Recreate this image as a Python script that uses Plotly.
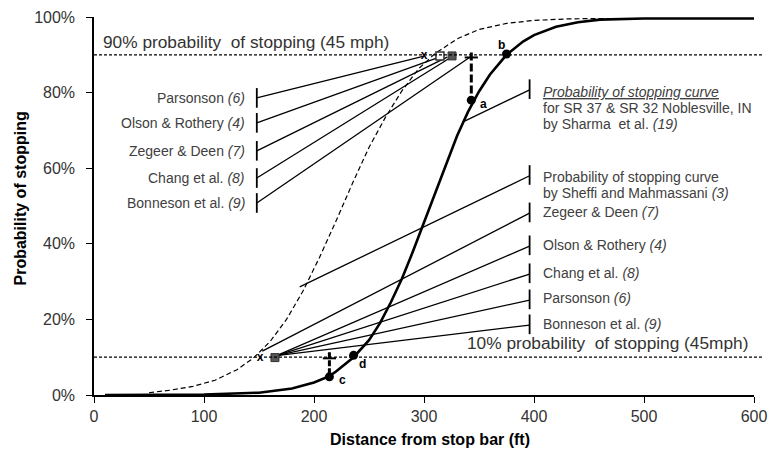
import plotly.graph_objects as go

# ---------------- data ----------------
# Sharma et al. probability of stopping curve (solid)
sharma_x = [10, 50, 100, 150, 180, 200, 214, 220, 236, 250, 260, 270, 280, 290, 300, 310, 320,
            330, 340, 345, 350, 360, 375, 390, 400, 420, 440, 460, 500, 550, 600]
sharma_y = [0.0, 0.05, 0.15, 0.6, 1.7, 3.3, 5.0, 6.2, 10.0, 14.5, 19.0, 24.6, 30.8, 38.0, 45.7, 53.6, 61.3,
            68.5, 74.9, 77.7, 80.3, 84.8, 90.0, 93.5, 95.2, 97.4, 98.6, 99.3, 99.6, 99.6, 99.6]

# Sheffi and Mahmassani curve (dashed)
sheffi_x = [50, 70, 90, 110, 130, 145, 160, 175, 190, 205, 220, 235, 250, 265, 280, 295, 310,
            330, 350, 375, 400, 430, 460, 500, 600]
sheffi_y = [0.6, 1.3, 2.3, 3.9, 6.7, 9.8, 14.1, 20.0, 27.5, 36.4, 46.0, 56.0, 65.5, 73.5, 80.5, 86.3, 90.3,
            94.2, 96.7, 98.3, 99.1, 99.5, 99.6, 99.6, 99.6]

# reference probability levels
level_90 = 90
level_10 = 10

# labelled points a, b, c, d
pt_names = ["a", "b", "c", "d"]
pt_x = [343, 375, 214, 236]
pt_y = [78.0, 90.2, 4.8, 10.5]

# left group of studies (90 % points)
left_names = ["Parsonson <i>(6)</i>", "Olson & Rothery <i>(4)</i>", "Zegeer & Deen <i>(7)</i>",
              "Chang et al. <i>(8)</i>", "Bonneson et al. <i>(9)</i>"]
left_start_x = 148
left_start_y = [78.6, 72.0, 64.6, 57.4, 50.8]
left_end_x = [299, 314, 321, 325, 342]
left_end_y = [89.6, 89.4, 89.4, 89.4, 89.4]

# right group of studies (10 % points)
right_names = ["Zegeer & Deen <i>(7)</i>", "Olson & Rothery <i>(4)</i>", "Chang et al. <i>(8)</i>",
               "Parsonson <i>(6)</i>", "Bonneson et al. <i>(9)</i>"]
right_start_x = 396
right_start_y = [48.1, 39.4, 32.0, 25.1, 18.5]
right_end_x = [153, 166, 166, 166, 166]
right_end_y = [11.6, 10.4, 10.4, 10.4, 10.4]

# curve leaders
sheffi_leader_x = [396, 187]
sheffi_leader_y = [58.0, 28.6]
sharma_leader_x = [396, 335]
sharma_leader_y = [80.7, 72.2]

# range markers (vertical thick dashed)
upper_range_x = 343
upper_range_y = [90.6, 78.0]
lower_range_x = 214
lower_range_y = [11.3, 4.8]

# study markers on levels
x_mark_x = [151, 300]
x_mark_y = [9.8, 89.7]
sq_x = [164.5, 325.5]
sq_y = [9.9, 89.7]
hollow_sq_x = [314.5]
hollow_sq_y = [89.7]

x_ticks = [0, 100, 200, 300, 400, 500, 600]
y_ticks = [0, 20, 40, 60, 80, 100]
y_tick_text = ["0%", "20%", "40%", "60%", "80%", "100%"]

# ---------------- figure ----------------
FONT = "Liberation Sans, Arial, sans-serif"
LBL = "#404040"
fig = go.Figure()

def seg_trace(xs, ys, width=1.3, dash="solid", color="black"):
    fig.add_trace(go.Scatter(x=xs, y=ys, mode="lines", line=dict(color=color, width=width, dash=dash),
                             hoverinfo="skip", showlegend=False))

# curves
seg_trace(sheffi_x, sheffi_y, width=1.2, dash="5px,3px")
seg_trace(sharma_x, sharma_y, width=2.6)

# leader lines with end ticks
lx, ly, tx, ty = [], [], [], []
for sy, ex, ey in zip(left_start_y, left_end_x, left_end_y):
    lx += [left_start_x, ex, None]; ly += [sy, ey, None]
    tx += [left_start_x, left_start_x, None]; ty += [sy - 2.6, sy + 2.6, None]
for sy, ex, ey in zip(right_start_y, right_end_x, right_end_y):
    lx += [right_start_x, ex, None]; ly += [sy, ey, None]
    tx += [right_start_x, right_start_x, None]; ty += [sy - 2.4, sy + 2.8, None]
for xs, ys in [(sheffi_leader_x, sheffi_leader_y), (sharma_leader_x, sharma_leader_y)]:
    lx += xs + [None]; ly += ys + [None]
    tx += [xs[0], xs[0], None]; ty += [ys[0] - 2.4, ys[0] + 2.8, None]
seg_trace(lx, ly, width=1.3)
seg_trace(tx, ty, width=1.8)

# range markers
seg_trace([upper_range_x, upper_range_x], upper_range_y, width=3, dash="8px,3px")
seg_trace([upper_range_x - 6, upper_range_x + 6], [level_90 - 0.7, level_90 - 0.7], width=2)
seg_trace([lower_range_x, lower_range_x], lower_range_y, width=3, dash="6px,2px")
seg_trace([lower_range_x - 6, lower_range_x + 6], [level_10 - 0.3, level_10 - 0.3], width=2)

# markers
fig.add_trace(go.Scatter(x=pt_x, y=pt_y, mode="markers", marker=dict(color="black", size=9),
                         hoverinfo="skip", showlegend=False))
fig.add_trace(go.Scatter(x=sq_x, y=sq_y, mode="markers",
                         marker=dict(color="#555555", size=8, symbol="square",
                                     line=dict(color="#333333", width=1)),
                         hoverinfo="skip", showlegend=False))
fig.add_trace(go.Scatter(x=hollow_sq_x, y=hollow_sq_y, mode="markers",
                         marker=dict(color="white", size=8, symbol="square",
                                     line=dict(color="#333333", width=1.5)),
                         hoverinfo="skip", showlegend=False))
fig.add_trace(go.Scatter(x=x_mark_x, y=x_mark_y, mode="text", text=["<b>x</b>", "<b>x</b>"],
                         textfont=dict(family=FONT, size=12, color="black"),
                         hoverinfo="skip", showlegend=False))

# probability level lines (extend a bit beyond plot)
for lvl in [level_90, level_10]:
    fig.add_shape(type="line", xref="paper", yref="paper", x0=0, x1=1.012,
                  y0=lvl / 100, y1=lvl / 100, line=dict(color="black", width=1.3, dash="3px,2px"))

ann = []
def A(text, x, y, xanchor="left", size=14, color=LBL, xref="x", yref="y", **kw):
    ann.append(dict(text=text, x=x, y=y, xref=xref, yref=yref, xanchor=xanchor, yanchor="middle",
                    showarrow=False, font=dict(family=FONT, size=size, color=color), **kw))

for name, sy in zip(left_names, left_start_y):
    A(name, 139.5, sy, xanchor="right")
right_label_y = [48.4, 39.7, 32.3, 25.7, 18.8]
for name, sy in zip(right_names, right_label_y):
    A(name, 406, sy)
A("Probability of stopping curve", 406, 57.7)
A("by Sheffi and Mahmassani <i>(3)</i>", 406, 53.4)
A("<span style='text-decoration:underline'><i>Probability of stopping curve</i></span>", 406, 80.2)
A("for SR 37 & SR 32 Noblesville, IN", 406, 75.9)
A("by Sharma  et al. <i>(19)</i>", 406, 71.7)

A("90% probability  of stopping (45 mph)", 6.5, 93.5, size=17.3, color="#333333")
A("10% probability  of stopping (45mph)", 596, 13.8, xanchor="right", size=17.3, color="#333333")

# point letters
A("<b>a</b>", 349.5, 77.0, size=12, color="black")
A("<b>b</b>", 365.5, 92.6, size=12, color="black")
A("<b>c</b>", 220.5, 3.9, size=12, color="black")
A("<b>d</b>", 239.5, 8.2, size=12, color="black")

# axis titles
A("<b>Distance from stop bar (ft)</b>", 0.509, -0.118, xanchor="center", size=16, color="black",
  xref="paper", yref="paper")
A("<b>Probability of stopping</b>", -0.112, 0.52, xanchor="center", size=16, color="black",
  xref="paper", yref="paper", textangle=-90)

fig.update_layout(
    width=772, height=454,
    margin=dict(l=94, r=18, t=17, b=59),
    plot_bgcolor="white", paper_bgcolor="white",
    annotations=ann,
    showlegend=False,
    xaxis=dict(range=[0, 600], tickvals=x_ticks, showgrid=False, zeroline=False, automargin=False,
               showline=True, linecolor="black", linewidth=1.5, ticks="outside", ticklen=6,
               tickcolor="black", tickwidth=1.3,
               tickfont=dict(family=FONT, size=16, color="#333333")),
    yaxis=dict(range=[0, 100], tickvals=y_ticks, ticktext=y_tick_text, tickmode="array",
               showgrid=False, zeroline=False, automargin=False,
               showline=True, linecolor="black", linewidth=1.5, ticks="outside", ticklen=6,
               tickcolor="black", tickwidth=1.3, ticklabelstandoff=8,
               tickfont=dict(family=FONT, size=16, color="#333333")),
)

fig.write_html("out.html")
